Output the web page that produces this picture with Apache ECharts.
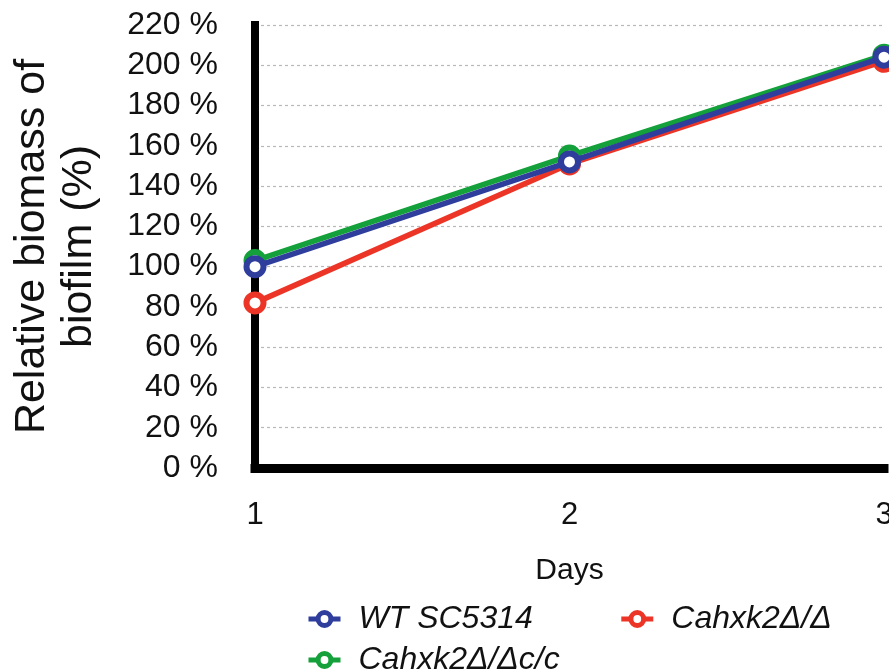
<!DOCTYPE html>
<html>
<head>
<meta charset="utf-8">
<script src="https://cdn.jsdelivr.net/npm/echarts@6/dist/echarts.min.js"></script>
<style>
  html, body { margin: 0; padding: 0; background: #fff; }
  #chart { width: 889px; height: 669px; }
</style>
</head>
<body>
<div id="chart"></div>
<script>
// Biofilm biomass relative to day 1 of the wild type, per strain
const days = ['1', '2', '3'];
const wtSC5314 = [100, 152, 204];
const cahxk2Null = [82, 151, 202];
const cahxk2Complemented = [103, 155, 205];
const yTicks = [0, 20, 40, 60, 80, 100, 120, 140, 160, 180, 200, 220];

const NAME_WT = 'WT SC5314';
const NAME_NULL = 'Cahxk2Δ/Δ';
const NAME_COMP = 'Cahxk2Δ/Δc/c';

const FONT = '"Liberation Sans", Arial, Helvetica, sans-serif';

// Thick line with hollow ring markers
function lineSeries(name, data, color, z) {
  return {
    name: name,
    type: 'line',
    data: data,
    z: z,
    symbol: 'circle',
    symbolSize: 17,
    showSymbol: true,
    clip: false,
    lineStyle: { color: color, width: 5.5 },
    itemStyle: { color: '#fff', borderColor: color, borderWidth: 6 },
    emphasis: { disabled: true },
    animation: false
  };
}

const chart = echarts.init(document.getElementById('chart'), null, { renderer: 'canvas' });

const legendText = {
  fontFamily: FONT, fontSize: 32, fontStyle: 'italic', color: '#111',
  padding: [0, 0, 0, 13]
};
const legendCommon = {
  orient: 'horizontal',
  itemWidth: 32, itemHeight: 16,
  itemStyle: { borderWidth: 5 },
  lineStyle: { width: 5 },
  textStyle: legendText,
  selectedMode: false
};

chart.setOption({
  backgroundColor: '#fff',
  animation: false,
  // the last category sits at the right edge, its label partly cut off
  grid: {
    left: 255, right: 5, top: 25, bottom: 201,
    containLabel: false, outerBoundsMode: 'none'
  },
  legend: [
    Object.assign({ data: [NAME_WT, NAME_NULL], left: 301, top: 598, itemGap: 86 }, legendCommon),
    Object.assign({ data: [NAME_COMP], left: 301, top: 639 }, legendCommon)
  ],
  xAxis: {
    type: 'category',
    data: days,
    boundaryGap: false,
    name: 'Days',
    nameLocation: 'middle',
    nameGap: 88,
    nameTextStyle: { fontFamily: FONT, fontSize: 30, color: '#111' },
    axisLine: { show: true, lineStyle: { color: '#000', width: 9, cap: 'square' } },
    axisTick: { show: false },
    axisLabel: { margin: 32, fontFamily: FONT, fontSize: 31, color: '#111', hideOverlap: false },
    splitLine: { show: false }
  },
  yAxis: {
    type: 'value',
    min: yTicks[0],
    max: yTicks[yTicks.length - 1],
    interval: 20,
    name: 'Relative biomass of\nbiofilm (%)',
    nameLocation: 'middle',
    nameGap: 152,
    nameTextStyle: { fontFamily: FONT, fontSize: 43, color: '#111', lineHeight: 47, align: 'center' },
    axisLine: { show: true, lineStyle: { color: '#000', width: 8, cap: 'square' } },
    axisTick: { show: false },
    axisLabel: {
      margin: 37,
      fontFamily: FONT, fontSize: 32, color: '#111',
      formatter: function (v) { return v + ' %'; }
    },
    splitLine: { show: true, lineStyle: { color: '#b8b8b8', width: 1.2, type: [3, 3] } }
  },
  series: [
    lineSeries(NAME_COMP, cahxk2Complemented, '#14a03a', 2),
    lineSeries(NAME_NULL, cahxk2Null, '#ec3526', 3),
    lineSeries(NAME_WT, wtSC5314, '#2f3d9c', 4)
  ]
});
</script>
</body>
</html>
